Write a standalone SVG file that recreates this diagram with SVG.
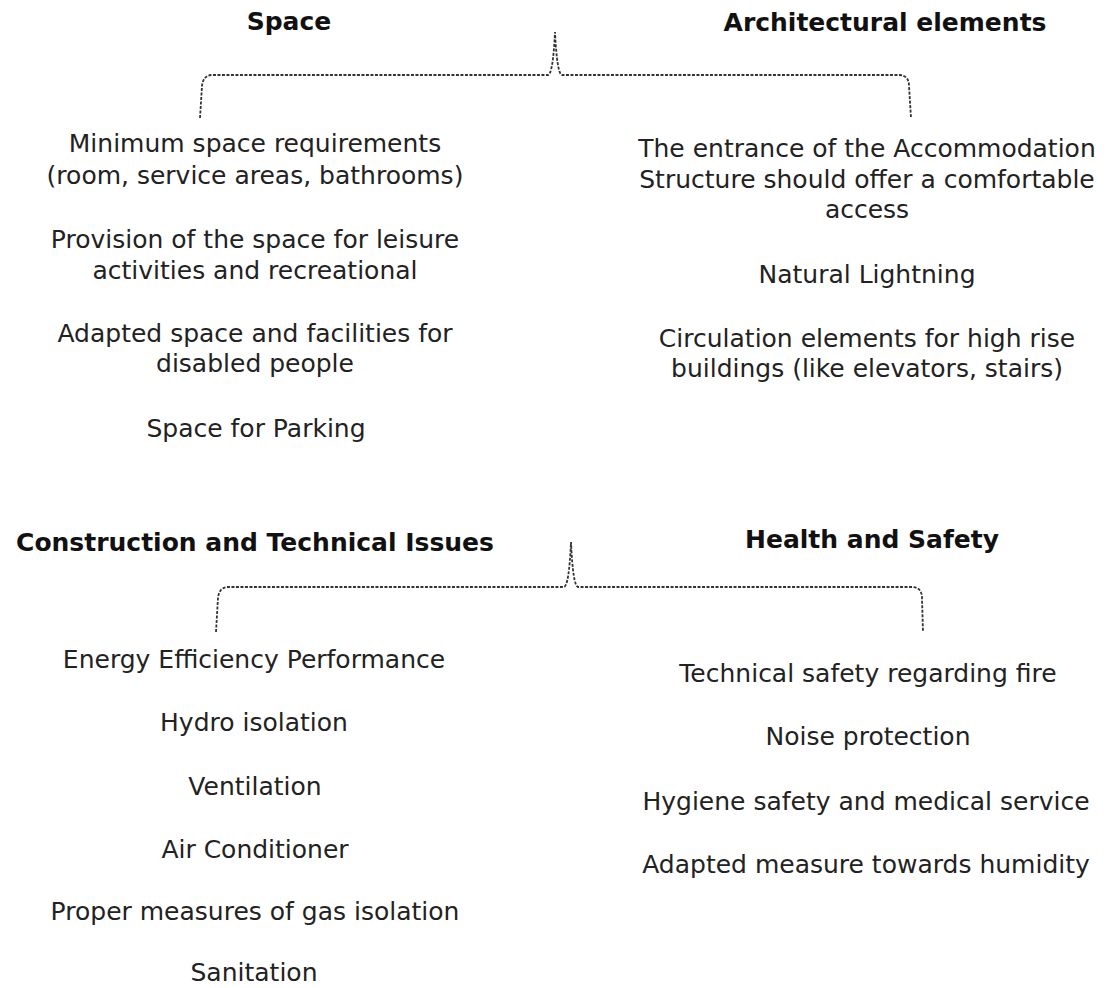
<svg xmlns="http://www.w3.org/2000/svg" width="1107" height="988" viewBox="0 0 1107 988">
<style>
text{font-family:"DejaVu Sans","Liberation Sans",sans-serif;fill:#222;text-anchor:middle;font-size:25px}
.h{font-weight:bold;fill:#111}
.b{fill:none;stroke:#333;stroke-width:1.8;stroke-dasharray:3 1.5}
</style>
<rect width="1107" height="988" fill="#fff"/>
<g id="connectors">
<path class="b" d="M200,118 L202,86 Q203,76 211,75 L548,75 Q553,74 555,32 Q557,74 562,75 L900,75 Q909,76 909,86 L911,118"/>
<path class="b" d="M216,632 L218,598 Q219,588 227,587 L564,587 Q569,586 571,542 Q573,586 578,587 L913,587 Q922,588 922,598 L923,632"/>
</g>
<g id="space">
<text class="h" x="289" y="30">Space</text>
<text x="255" y="152">Minimum space requirements</text>
<text x="255" y="184">(room, service areas, bathrooms)</text>
<text x="255" y="248">Provision of the space for leisure</text>
<text x="255" y="279">activities and recreational</text>
<text x="255" y="342">Adapted space and facilities for</text>
<text x="255" y="372">disabled people</text>
<text x="256" y="437">Space for Parking</text>
</g>
<g id="architectural">
<text class="h" x="885" y="31">Architectural elements</text>
<text x="867" y="157">The entrance of the Accommodation</text>
<text x="867" y="188">Structure should offer a comfortable</text>
<text x="867" y="218">access</text>
<text x="867" y="283">Natural Lightning</text>
<text x="867" y="347">Circulation elements for high rise</text>
<text x="867" y="377">buildings (like elevators, stairs)</text>
</g>
<g id="construction">
<text class="h" x="255" y="551">Construction and Technical Issues</text>
<text x="254" y="668">Energy Efficiency Performance</text>
<text x="254" y="731">Hydro isolation</text>
<text x="255" y="795">Ventilation</text>
<text x="255" y="858">Air Conditioner</text>
<text x="255" y="920">Proper measures of gas isolation</text>
<text x="254" y="981">Sanitation</text>
</g>
<g id="health">
<text class="h" x="872" y="548">Health and Safety</text>
<text x="868" y="682">Technical safety regarding fire</text>
<text x="868" y="745">Noise protection</text>
<text x="866" y="810">Hygiene safety and medical service</text>
<text x="866" y="873">Adapted measure towards humidity</text>
</g>
</svg>
